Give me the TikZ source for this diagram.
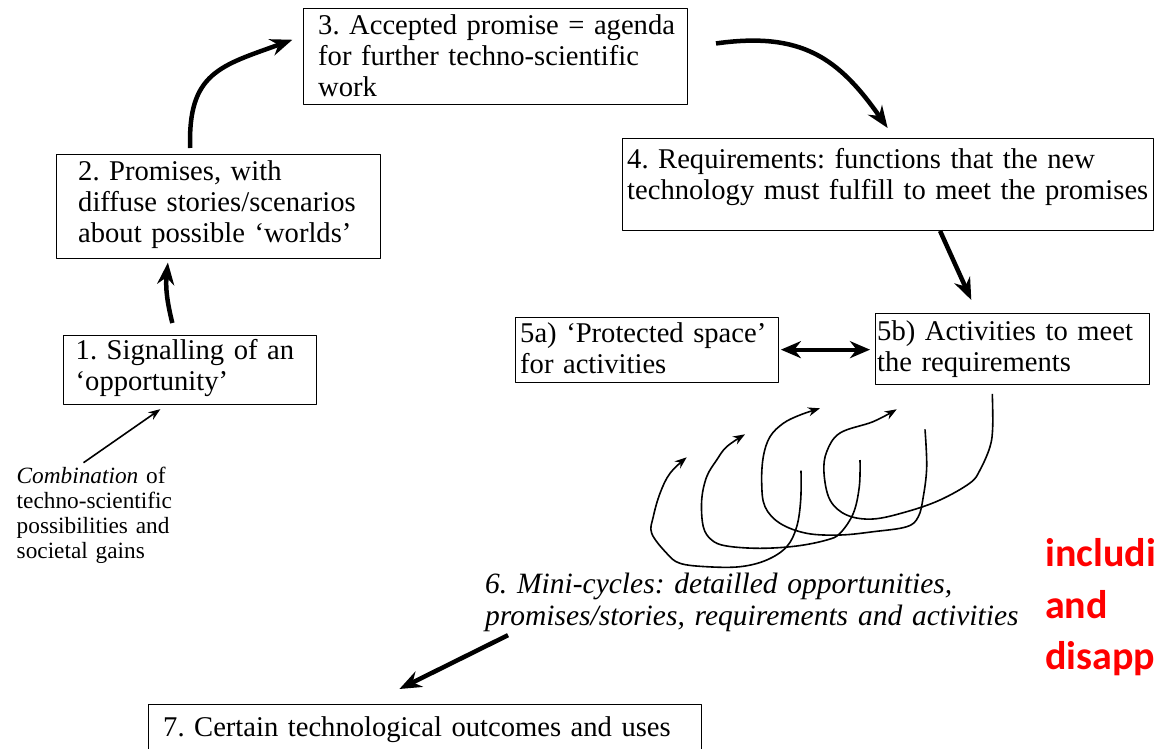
\documentclass[tikz,border=0pt]{standalone}
\usepackage{fontspec}
\setmainfont{Liberation Serif}[Ligatures=NoCommon]
\newfontfamily\hypefont{Carlito}
\usetikzlibrary{arrows.meta}
\definecolor{hypered}{RGB}{255,0,0}
\newcommand\stagefont{\fontsize{28.6}{31}\selectfont}
\frenchspacing

\begin{document}
\begin{tikzpicture}[x=1pt, y=-1pt, line join=round,
	stagebox/.style={draw, line width=.9pt, inner sep=0pt, anchor=north west},
	stagetext/.style={anchor=base west, align=left, text width=560pt, inner sep=0pt, font=\stagefont},
	bigarrow/.style={line width=4.5pt, -{Stealth[length=22pt,width=17pt]}},
	thinarrow/.style={line width=1.6pt, -{Stealth[length=12pt,width=9pt]}},
	cyclearrow/.style={line width=1.6pt, -{Stealth[length=12pt,width=9pt]}}]
	\useasboundingbox (0,0) rectangle (1154,748);
	\clip (0,0) rectangle (1154,748);
	% frames of the stages
	\node[stagebox, minimum width=253pt, minimum height=69pt] (s1) at (63.4,334.5) {};
	\node[stagebox, minimum width=324.5pt, minimum height=104pt] (s2) at (55.8,154) {};
	\node[stagebox, minimum width=384pt, minimum height=96pt] (s3) at (302.7,7.5) {};
	\node[stagebox, minimum width=531pt, minimum height=92.5pt] (s4) at (621.7,137.5) {};
	\node[stagebox, minimum width=262.6pt, minimum height=65pt] (s5a) at (515.4,316.7) {};
	\node[stagebox, minimum width=273.7pt, minimum height=71.3pt] (s5b) at (875,312.7) {};
	\node[stagebox, minimum width=553.3pt, minimum height=80pt] (s7) at (147.7,704) {};
	% texts
	\node[stagetext] (t1) at (75.5,359) {1. Signalling of an\\‘opportunity’};
	\node[stagetext] (t2) at (78,180) {2. Promises, with\\diffuse stories/scenarios\\about possible ‘worlds’};
	\node[stagetext] (t3) at (318,34) {3. Accepted promise = agenda\\for further techno-scientific\\work};
	\node[stagetext] (t4) at (627,168) {4. Requirements: functions that the new\\technology must fulfill to meet the promises};
	\node[stagetext] (t5a) at (520,342) {5a) ‘Protected space’\\for activities};
	\node[stagetext] (t5b) at (877,340.7) {5b) Activities to meet\\the requirements};
	\node[stagetext, font=\fontsize{29.5}{32.7}\selectfont\itshape] (t6) at (485,593) {6. Mini-cycles: detailled opportunities,\\promises/stories, requirements and activities};
	\node[stagetext] (t7) at (163,736.7) {7. Certain technological outcomes and uses};
	\node[stagetext, font=\fontsize{23.3}{25}\selectfont] (tc) at (16.5,483) {\textit{Combination} of\\techno-scientific\\possibilities and\\societal gains};
	\node[stagetext, text width=200pt, text=hypered, font=\hypefont\bfseries\fontsize{40}{51.5}\selectfont] (th) at (1045,566.7) {includi\\and\\disapp};
	% main cycle
	\draw[thinarrow] ([xshift=67pt,yshift=3.7pt]tc.north west) -- ([xshift=-30pt,yshift=-4.8pt]s1.south);
	\draw[bigarrow] ([xshift=-18pt,yshift=11.5pt]s1.north) to[bend left=10] ([xshift=-50.6pt,yshift=-3.7pt]s2.south);
	\draw[bigarrow] ([xshift=-28.3pt,yshift=6pt]s2.north) to[out=92, in=-160, looseness=1.3] ([xshift=-10.3pt,yshift=16.2pt]s3.west);
	\draw[bigarrow] ([xshift=28.4pt,yshift=12.5pt]s3.east) to[out=8, in=125, looseness=1.15] ([yshift=9.5pt]s4.north);
	\draw[bigarrow] ([xshift=52.4pt]s4.south) -- ([xshift=-41pt,yshift=12.7pt]s5b.north);
	\draw[line width=4pt, {Stealth[length=20pt,width=17pt]}-{Stealth[length=20pt,width=17pt]}, shorten <=2pt, shorten >=5pt] (s5a.east) -- (s5a.east -| s5b.west);
	\draw[bigarrow] ([xshift=23pt,yshift=-3pt]t6.south west) -- ([xshift=-25.4pt,yshift=15pt]s7.north);
	% mini-cycles
	\coordinate (loopA) at ([xshift=-20pt,yshift=-9pt]s5b.south);
	\draw[cyclearrow] plot[smooth, tension=.6] coordinates {(loopA) (992.7,426.7) (990,446.7) (980,470) (970,483) (940,500) (906.7,511.7) (873,519) (846.7,515) (830,500) (824,473) (826.7,451.7) (840,433) (873,421.7) (896.7,409.3)};
	\draw[cyclearrow] plot[smooth, tension=.6] coordinates {(925,429.3) (926.7,466.7) (923.3,496.7) (918.3,516.7) (906.7,526.7) (873.3,531.7) (840,535) (806.7,533.3) (780,523.3) (765,506.7) (761.7,483.3) (763.3,456.7) (770,436.7) (783.3,423.3) (800,415) (820,408.3)};
	\draw[cyclearrow] plot[smooth, tension=.6] coordinates {(860,460) (859.3,486.7) (853.3,513.3) (840,533.3) (826.7,540) (796.7,546) (760,548.3) (726.7,546) (711.7,540) (703.3,526.7) (701.7,500) (706.7,476.7) (716.7,460) (726.7,446.7) (745,434.3)};
	\draw[cyclearrow] plot[smooth, tension=.6] coordinates {(801,470.7) (800.7,500) (796.7,526.7) (786.7,546.7) (766.7,560) (740,566.7) (706.7,566.7) (680,563.3) (666.7,553.3) (651.7,533.3) (653.3,516.7) (660,493.3) (670,473.3) (686.7,457.3)};
\end{tikzpicture}
\end{document}
